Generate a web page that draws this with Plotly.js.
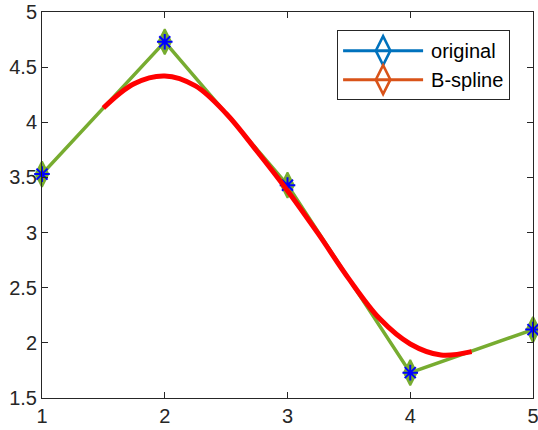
<!DOCTYPE html>
<html><head><meta charset="utf-8">
<script src="https://cdn.plot.ly/plotly-3.0.1.min.js"></script>
<style>html,body{margin:0;padding:0;background:#fff}#chart{width:538px;height:430px}</style>
</head><body><div id="chart"></div>
<script>
const xOriginal = [1, 2, 3, 4, 5];
const yOriginal = [3.53, 4.73, 3.43, 1.73, 2.12];
const xSpline = [1.5, 1.75, 2, 2.25, 2.5, 2.75, 3, 3.25, 3.5, 3.75, 4, 4.25, 4.5];
const ySpline = [4.13, 4.35, 4.42, 4.33, 4.08, 3.74, 3.38, 2.99, 2.58, 2.22, 1.99, 1.89, 1.92];
const legendNames = ['original', 'B-spline'];
const legendColors = ['#0072BD', '#D95319'];

const axFont = {family: 'Liberation Sans, Arial, sans-serif', size: 20, color: '#262626'};

const traces = [
  {x: xOriginal, y: yOriginal, mode: 'lines+markers', showlegend: false, cliponaxis: false,
   line: {color: '#77AC30', width: 3.5},
   marker: {symbol: 'diamond-tall', size: 18, color: '#77AC30', line: {color: '#77AC30', width: 2}}},
  {x: xOriginal, y: yOriginal, mode: 'markers', showlegend: false, cliponaxis: false,
   marker: {symbol: 'asterisk-open', size: 13, color: '#0000FF', line: {color: '#0000FF', width: 2}}},
  {x: xSpline, y: ySpline, mode: 'lines', showlegend: false,
   line: {color: '#FF0000', width: 5, shape: 'spline', smoothing: 1}},
  {x: [null], y: [null], name: legendNames[0], mode: 'lines+markers',
   line: {color: legendColors[0], width: 3},
   marker: {symbol: 'diamond-tall-open', size: 16, color: legendColors[0], line: {color: legendColors[0], width: 2}}},
  {x: [null], y: [null], name: legendNames[1], mode: 'lines+markers',
   line: {color: legendColors[1], width: 3},
   marker: {symbol: 'diamond-tall-open', size: 16, color: legendColors[1], line: {color: legendColors[1], width: 2}}}
];

const axisBase = {
  showgrid: false, zeroline: false, showline: true, linecolor: '#262626', linewidth: 1,
  mirror: 'ticks', ticks: 'inside', ticklen: 6, tickcolor: '#262626', tickwidth: 1,
  tickfont: axFont, ticklabeloverflow: 'allow'
};

const layout = {
  width: 538, height: 430,
  margin: {l: 42, r: 5, t: 12, b: 32},
  paper_bgcolor: '#fff', plot_bgcolor: '#fff',
  xaxis: Object.assign({}, axisBase, {range: [1, 5], tick0: 1, dtick: 1}),
  yaxis: Object.assign({}, axisBase, {range: [1.5, 5], tick0: 1.5, dtick: 0.5}),
  legend: {x: 0.601, y: 0.953, xanchor: 'left', yanchor: 'top', bgcolor: '#fff',
    bordercolor: '#262626', borderwidth: 1, itemwidth: 83, tracegroupgap: 0,
    font: {family: 'Liberation Sans, Arial, sans-serif', size: 20, color: '#000'}},
  showlegend: true
};

function stretchLegendLines() {
  const gd = document.getElementById('chart');
  gd.querySelectorAll('.legend .traces').forEach(function (t) {
    t.querySelectorAll('.legendlines path').forEach(function (p) { p.setAttribute('d', 'M5,0h80'); });
    t.querySelectorAll('.legendsymbols path.scatterpts').forEach(function (p) { p.setAttribute('transform', 'translate(45,0) scale(1.3)'); });
  });
}

Plotly.newPlot('chart', traces, layout, {displayModeBar: false, staticPlot: true}).then(stretchLegendLines);
</script></body></html>
